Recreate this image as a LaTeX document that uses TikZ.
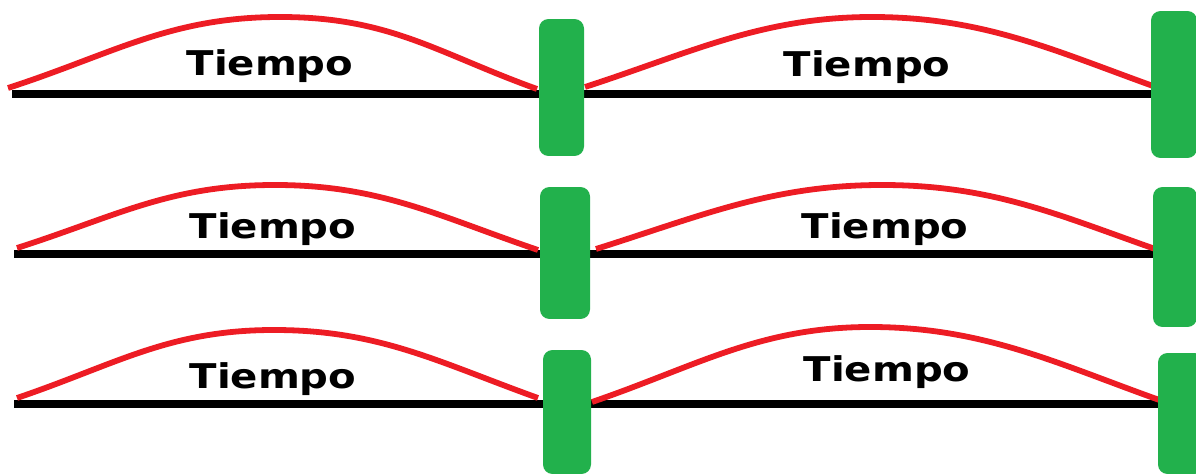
\documentclass[tikz,border=0pt]{standalone}
\usepackage{fontspec}
\usepackage{xcolor}
\usepackage{tikz}
\usetikzlibrary{backgrounds}
\newfontfamily\tiempofont[FakeStretch=1.18]{DejaVu Sans}
\definecolor{pgreen}{HTML}{22B14C}
\definecolor{pred}{HTML}{ED1C24}

\tikzset{
  barra/.style={fill=pgreen, draw=none, inner sep=0pt, rounded corners=0.19cm},
  eje/.style={black, line width=4.4pt},
  arco/.style={pred, line width=3.3pt},
  rotulo/.style={anchor=base, inner sep=0pt, font=\tiempofont\bfseries\fontsize{19.4}{22}\selectfont}
}

\begin{document}
\begin{tikzpicture}[x=0.02cm,y=-0.02cm]

  \useasboundingbox (0,0) rectangle (1196,475);
  \clip (0,0) rectangle (1196,475);

  % barras verdes (fila 1, 2, 3)
  \node[barra, minimum width=0.90cm, minimum height=2.74cm] (b11) at (561.5,87.5) {};
  \node[barra, minimum width=0.92cm, minimum height=2.94cm] (b12) at (1174,84.5) {};
  \node[barra, minimum width=1.00cm, minimum height=2.64cm] (b21) at (565,253) {};
  \node[barra, minimum width=0.88cm, minimum height=2.80cm] (b22) at (1175,257) {};
  \node[barra, minimum width=0.96cm, minimum height=2.48cm] (b31) at (567,412) {};
  \node[barra, minimum width=0.92cm, minimum height=2.42cm] (b32) at (1181,413.5) {};

  % inicio de cada eje
  \coordinate (l1) at (12,94);
  \coordinate (l2) at (14,254);
  \coordinate (l3) at (14,404);

  % extremos y cima de los arcos
  \coordinate (a11) at (8,88);    \coordinate (p11) at (280,17);  \coordinate (e11) at (537,89);
  \coordinate (a12) at (585,87);  \coordinate (p12) at (872,17);  \coordinate (e12) at (1153,86);
  \coordinate (a21) at (17,248);  \coordinate (p21) at (275,185); \coordinate (e21) at (538,250);
  \coordinate (a22) at (596,249); \coordinate (p22) at (882,185); \coordinate (e22) at (1158,250);
  \coordinate (a31) at (17,398);  \coordinate (p31) at (274,330); \coordinate (e31) at (538,398);
  \coordinate (a32) at (592,402); \coordinate (p32) at (870,327); \coordinate (e32) at (1165,402);

  \begin{pgfonlayer}{background}
    % ejes
    \draw[eje] (l1) -- (l1 -| b12.center);
    \draw[eje] (l2) -- (l2 -| b22.center);
    \draw[eje] (l3) -- (l3 -| b32.center);

    % arcos
    \draw[arco] (a11) .. controls +(105,-34) and +(-110,0) .. (p11) .. controls +(110,0) and +(-100,-36) .. (e11);
    \draw[arco] (a12) .. controls +(105,-34) and +(-110,0) .. (p12) .. controls +(110,0) and +(-100,-36) .. (e12);
    \draw[arco] (a21) .. controls +(100,-32) and +(-105,0) .. (p21) .. controls +(105,0) and +(-100,-34) .. (e21);
    \draw[arco] (a22) .. controls +(105,-33) and +(-110,0) .. (p22) .. controls +(110,0) and +(-100,-35) .. (e22);
    \draw[arco] (a31) .. controls +(100,-34) and +(-105,0) .. (p31) .. controls +(105,0) and +(-100,-36) .. (e31);
    \draw[arco] (a32) .. controls +(105,-36) and +(-110,0) .. (p32) .. controls +(115,0) and +(-105,-37) .. (e32);
  \end{pgfonlayer}

  % rotulos
  \node[rotulo] (t11) at (270,76)  {Tiempo};
  \node[rotulo] (t12) at (867,77)  {Tiempo};
  \node[rotulo] (t21) at (273,239) {Tiempo};
  \node[rotulo] (t22) at (885,239) {Tiempo};
  \node[rotulo] (t31) at (273,389) {Tiempo};
  \node[rotulo] (t32) at (887,382) {Tiempo};

\end{tikzpicture}
\end{document}
